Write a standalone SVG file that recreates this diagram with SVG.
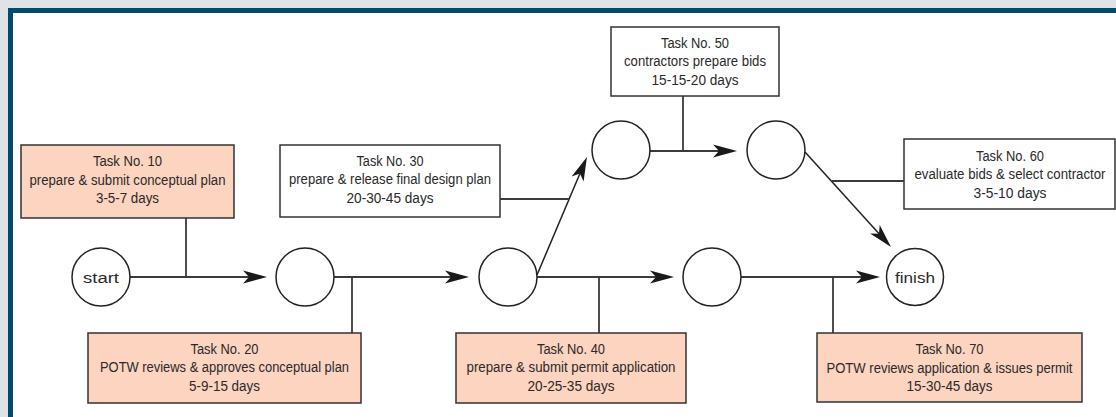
<svg xmlns="http://www.w3.org/2000/svg" width="1116" height="417" viewBox="0 0 1116 417">
<style>
.box{stroke:#333;stroke-width:1.5}
.peach{fill:#fcd4c0}
.plain{fill:#fff}
.node{fill:#fff;stroke:#222;stroke-width:1.5}
.t{font-family:"Liberation Sans Narrow","Arial Narrow","Liberation Sans",Arial,sans-serif;font-size:15.5px;fill:#2a2a2a;text-anchor:middle}
.edge{stroke:#3a3a3a;stroke-width:2;fill:none}
.diag{stroke:#222;stroke-width:1.5;fill:none}
.tie{stroke:#3a3a3a;stroke-width:1.8;fill:none}
</style>
<defs>
<marker id="arr" markerUnits="userSpaceOnUse" markerWidth="30" markerHeight="20" refX="0" refY="0" orient="auto" overflow="visible">
<path d="M6,0 L-18,-6.5 L-12,0 L-18,6.5 Z" fill="#1a1a1a"/>
</marker>
</defs>
<rect x="0" y="0" width="1116" height="417" fill="#dfe3e8"/>
<rect x="8" y="8" width="1200" height="500" fill="#034b6b"/>
<rect x="13" y="13" width="1200" height="500" fill="#fff"/>

<g id="connectors">
<line class="edge" x1="130" y1="277" x2="261" y2="277" marker-end="url(#arr)"/>
<line class="edge" x1="334" y1="277" x2="463" y2="277" marker-end="url(#arr)"/>
<line class="edge" x1="537" y1="277" x2="668" y2="277" marker-end="url(#arr)"/>
<line class="edge" x1="741" y1="277" x2="874" y2="277" marker-end="url(#arr)"/>
<line class="edge" x1="650" y1="151" x2="731" y2="151" marker-end="url(#arr)"/>
<line class="diag" x1="537" y1="275" x2="584.6" y2="162.5" marker-end="url(#arr)"/>
<line class="diag" x1="805" y1="152" x2="887" y2="242.6" marker-end="url(#arr)"/>
<line class="tie" x1="186" y1="218" x2="186" y2="277"/>
<line class="tie" x1="352" y1="277" x2="352" y2="333"/>
<line class="tie" x1="500" y1="199" x2="569" y2="199"/>
<line class="tie" x1="599" y1="277" x2="599" y2="333"/>
<line class="tie" x1="683" y1="96" x2="683" y2="151"/>
<line class="tie" x1="832" y1="181" x2="904" y2="181"/>
<line class="tie" x1="833" y1="277" x2="833" y2="333"/>
</g>

<g id="start"><circle class="node" cx="101" cy="277" r="29"/><text class="t" x="101" y="282.5" textLength="36" lengthAdjust="spacingAndGlyphs">start</text></g>
<g id="n2"><circle class="node" cx="305" cy="277" r="29"/></g>
<g id="n3"><circle class="node" cx="508" cy="277" r="29"/></g>
<g id="n4"><circle class="node" cx="712" cy="277" r="29"/></g>
<g id="n5"><circle class="node" cx="621" cy="150" r="29"/></g>
<g id="n6"><circle class="node" cx="776" cy="150" r="29"/></g>
<g id="finish"><circle class="node" cx="915" cy="277" r="28.5"/><text class="t" x="915" y="282.5" textLength="40" lengthAdjust="spacingAndGlyphs">finish</text></g>

<g id="task10">
<rect class="box peach" x="21" y="145" width="213" height="73"/>
<text class="t" x="127.5" y="166" textLength="69" lengthAdjust="spacingAndGlyphs">Task No. 10</text>
<text class="t" x="127.5" y="184.5" textLength="196" lengthAdjust="spacingAndGlyphs">prepare &amp; submit conceptual plan</text>
<text class="t" x="127.5" y="203" textLength="63" lengthAdjust="spacingAndGlyphs">3-5-7 days</text>
</g>
<g id="task20">
<rect class="box peach" x="88" y="333" width="273" height="70"/>
<text class="t" x="224.5" y="353.5" textLength="68" lengthAdjust="spacingAndGlyphs">Task No. 20</text>
<text class="t" x="224.5" y="372" textLength="249" lengthAdjust="spacingAndGlyphs">POTW reviews &amp; approves conceptual plan</text>
<text class="t" x="224.5" y="390.5" textLength="71" lengthAdjust="spacingAndGlyphs">5-9-15 days</text>
</g>
<g id="task30">
<rect class="box plain" x="280" y="145" width="220" height="72"/>
<text class="t" x="390" y="165.5" textLength="67" lengthAdjust="spacingAndGlyphs">Task No. 30</text>
<text class="t" x="390" y="184" textLength="202" lengthAdjust="spacingAndGlyphs">prepare &amp; release final design plan</text>
<text class="t" x="390" y="202.5" textLength="87" lengthAdjust="spacingAndGlyphs">20-30-45 days</text>
</g>
<g id="task40">
<rect class="box peach" x="456" y="333" width="230" height="70"/>
<text class="t" x="571" y="353.5" textLength="68" lengthAdjust="spacingAndGlyphs">Task No. 40</text>
<text class="t" x="571" y="372" textLength="209" lengthAdjust="spacingAndGlyphs">prepare &amp; submit permit application</text>
<text class="t" x="571" y="390.5" textLength="87" lengthAdjust="spacingAndGlyphs">20-25-35 days</text>
</g>
<g id="task50">
<rect class="box plain" x="611" y="27" width="168" height="69"/>
<text class="t" x="695" y="47.5" textLength="68" lengthAdjust="spacingAndGlyphs">Task No. 50</text>
<text class="t" x="695" y="66" textLength="142" lengthAdjust="spacingAndGlyphs">contractors prepare bids</text>
<text class="t" x="695" y="84.5" textLength="87" lengthAdjust="spacingAndGlyphs">15-15-20 days</text>
</g>
<g id="task60">
<rect class="box plain" x="904" y="139" width="211" height="70"/>
<text class="t" x="1010" y="160.5" textLength="68" lengthAdjust="spacingAndGlyphs">Task No. 60</text>
<text class="t" x="1010" y="179" textLength="191" lengthAdjust="spacingAndGlyphs">evaluate bids &amp; select contractor</text>
<text class="t" x="1010" y="197.5" textLength="73" lengthAdjust="spacingAndGlyphs">3-5-10 days</text>
</g>
<g id="task70">
<rect class="box peach" x="817" y="333" width="265" height="69"/>
<text class="t" x="949.5" y="354" textLength="68" lengthAdjust="spacingAndGlyphs">Task No. 70</text>
<text class="t" x="949.5" y="372.5" textLength="246" lengthAdjust="spacingAndGlyphs">POTW reviews application &amp; issues permit</text>
<text class="t" x="949.5" y="391" textLength="86" lengthAdjust="spacingAndGlyphs">15-30-45 days</text>
</g>
</svg>
